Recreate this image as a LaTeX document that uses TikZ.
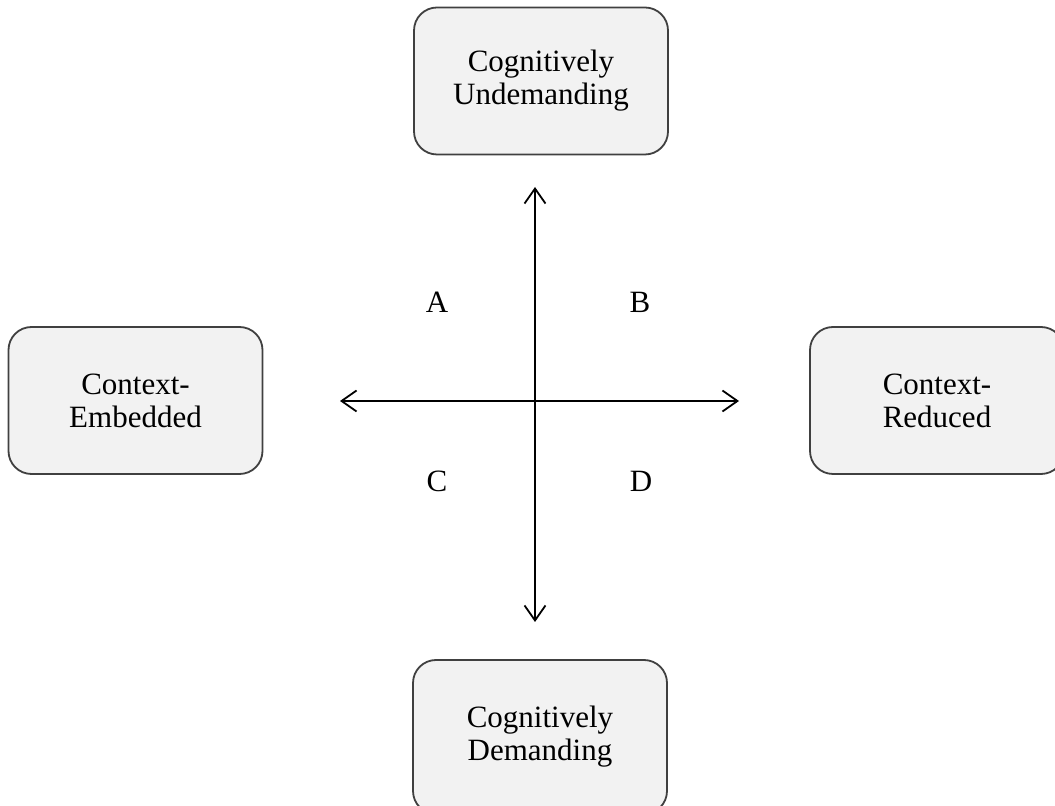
\documentclass[tikz,border=0pt]{standalone}
\usepackage{fontspec}
\setmainfont{Liberation Serif}
\usetikzlibrary{arrows.meta}
\definecolor{boxfill}{HTML}{F2F2F2}
\definecolor{boxline}{HTML}{404040}

\begin{document}
\begin{tikzpicture}[x=0.5pt,y=-0.5pt,box/.style={draw=boxline,fill=boxfill,line width=0.9pt,rounded corners=11.5pt,minimum width=127pt,minimum height=73.5pt,align=center,font=\fontsize{15.5}{16.5}\selectfont},quad/.style={font=\fontsize{15.5}{16.5}\selectfont},arr/.style={{Straight Barb[length=7.5pt,width=10.5pt]}-{Straight Barb[length=7.5pt,width=10.5pt]},line width=0.9pt}]
\useasboundingbox (0,0) rectangle (1055,806);
\node[box] (cu) at (541,81) {Cognitively\\Undemanding};
\node[box,minimum height=77pt] (cd) at (540,737) {Cognitively\\Demanding};
\node[box] (ce) at (135.5,400.5) {Context-\\Embedded};
\node[box] (cr) at (937,400.5) {Context-\\Reduced};
\coordinate (top) at (535,187); \coordinate (bot) at (535,622);
\coordinate (lft) at (340,401); \coordinate (rgt) at (739,401);
\draw[arr] (top)--(bot); \draw[arr] (lft)--(rgt);
\node[quad] (qa) at (437,302) {A};
\node[quad] (qb) at (640,302) {B};
\node[quad] (qc) at (437,481) {C};
\node[quad] (qd) at (641,481) {D};
\end{tikzpicture}
\end{document}
